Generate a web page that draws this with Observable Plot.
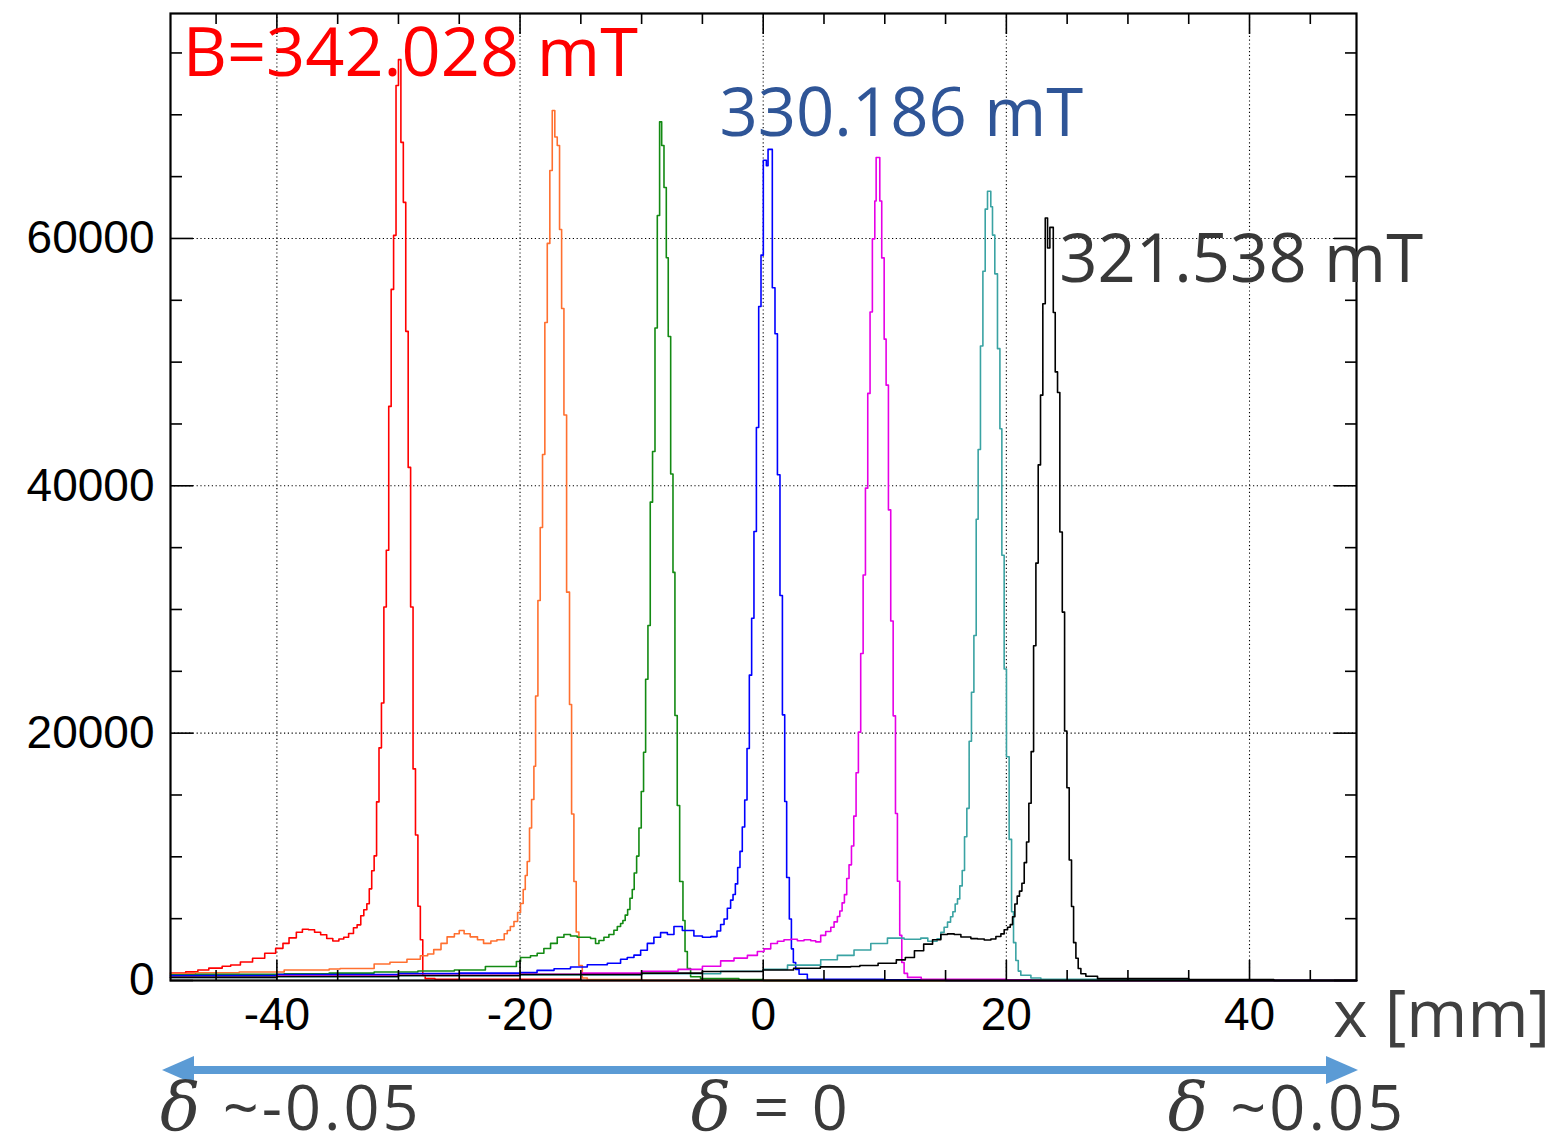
<!DOCTYPE html>
<html><head><meta charset="utf-8">
<script src="https://cdn.jsdelivr.net/npm/d3@7"></script>
<script src="https://cdn.jsdelivr.net/npm/@observablehq/plot@0.6"></script>
<style>
body{margin:0;background:#fff}
#chart svg{display:block}
</style>
</head><body><div id="chart"></div>
<script>
// axis domains and ticks
const xDomain = [-48.75, 48.8];
const yDomain = [0, 78190];
const xMajor = [-40, -20, 0, 20, 40];
const xMinor = [-45, -35, -30, -25, -15, -10, -5, 5, 10, 15, 25, 30, 35, 45];
const yMajor = [0, 20000, 40000, 60000];
const yMinor = [5000, 10000, 15000, 25000, 30000, 35000, 45000, 50000, 55000, 65000, 70000, 75000];

// histogram bin left edges (mm) and contents
const redX = [-48.75, -47.5, -46.5, -45.6, -44.5, -43.8, -43.0, -42.0, -41.0, -40.1, -39.5, -39.0, -38.4, -37.9, -37.4, -36.9, -36.4, -35.9, -35.4, -34.9, -34.5, -34.1, -33.7, -33.4, -33.1, -32.85, -32.6, -32.4, -32.2, -32.0, -31.8, -31.6, -31.4, -31.2, -31.0, -30.8, -30.6, -30.4, -30.2, -30.0, -29.8, -29.6, -29.4, -29.2, -29.0, -28.8, -28.6, -28.4, -28.2, -28.0, -27.8, -27.0, -15.0];
const redY = [600, 700, 850, 1000, 1150, 1250, 1500, 1800, 2200, 2600, 3000, 3450, 3900, 4150, 4100, 3900, 3700, 3400, 3200, 3350, 3500, 3800, 4260, 4500, 5230, 5720, 6200, 7410, 8870, 10080, 14440, 18810, 22440, 30200, 34790, 46420, 55880, 60250, 72370, 74460, 67770, 62920, 52490, 41490, 30200, 17110, 11770, 6000, 3290, 400, 150, 100, 0];

const orangeX = [-48.75, -46.7, -43.1, -39.4, -35.7, -34.8, -32.0, -30.7, -29.3, -28.2, -27.6, -27.1, -26.5, -26.0, -25.4, -25.0, -24.6, -24.1, -23.5, -23.0, -22.4, -21.9, -21.3, -21.05, -20.8, -20.5, -20.2, -19.96, -19.74, -19.57, -19.41, -19.22, -19.05, -18.86, -18.72, -18.53, -18.34, -18.15, -17.96, -17.76, -17.55, -17.35, -17.14, -16.94, -16.75, -16.58, -16.39, -16.17, -15.93, -15.76, -15.57, -15.38, -15.16, -14.88, -14.47, -10];
const orangeY = [570, 630, 690, 850, 930, 970, 1330, 1480, 1720, 2000, 2140, 2500, 3000, 3530, 3780, 4040, 3780, 3530, 3290, 3000, 3200, 3290, 3780, 4040, 4370, 4770, 5500, 6230, 7360, 8490, 9620, 12330, 14640, 17330, 23000, 30730, 36630, 42530, 53200, 59600, 65500, 70350, 68200, 67520, 60730, 54340, 45720, 31400, 22320, 13460, 8000, 3920, 1210, 200, 80, 0];

const greenX = [-48.75, -46.7, -39.4, -35.7, -32.0, -28.4, -25.4, -22.85, -20.3, -19.96, -19.14, -18.59, -18.04, -17.49, -16.94, -16.39, -15.85, -15.3, -14.75, -14.2, -13.79, -13.51, -13.1, -12.69, -12.28, -12.0, -11.73, -11.54, -11.35, -11.15, -10.96, -10.77, -10.61, -10.41, -10.22, -10.03, -9.84, -9.67, -9.48, -9.29, -9.1, -8.9, -8.71, -8.52, -8.35, -8.16, -7.97, -7.81, -7.61, -7.42, -7.26, -7.07, -6.87, -6.6, -6.43, -6.24, -5.97, -5.15, -2.0, 0];
const greenY = [460, 500, 550, 600, 690, 770, 850, 1130, 1540, 1860, 2000, 2200, 2590, 3000, 3500, 3720, 3600, 3500, 3500, 3400, 2990, 3230, 3500, 3720, 4060, 4370, 4610, 4850, 5290, 5740, 6650, 7360, 8690, 10060, 12330, 15280, 18460, 24360, 28700, 38680, 42770, 52760, 61860, 69430, 67520, 64120, 58440, 52070, 40950, 33000, 21430, 14150, 8000, 4850, 2340, 970, 300, 150, 80, 0];

const blueX = [-48.75, -40, -30, -25, -19.96, -18.6, -17.2, -15.85, -14.47, -12.82, -11.73, -11.18, -10.63, -10.08, -9.53, -8.99, -8.44, -7.88, -7.34, -6.65, -5.7, -5.0, -4.3, -3.8, -3.5, -3.22, -2.95, -2.68, -2.48, -2.29, -2.1, -1.91, -1.72, -1.52, -1.33, -1.14, -0.95, -0.76, -0.56, -0.37, -0.18, 0.01, 0.26, 0.40, 0.75, 0.97, 1.17, 1.38, 1.58, 1.77, 1.93, 2.15, 2.32, 2.48, 2.67, 2.95, 3.63, 10, 15];
const blueY = [400, 480, 570, 600, 640, 820, 950, 1090, 1270, 1390, 1720, 1860, 2050, 2450, 3000, 3500, 3870, 3720, 4370, 4040, 3600, 3500, 3550, 4000, 4530, 4970, 5840, 6500, 6950, 7810, 9140, 10440, 12410, 14600, 18760, 24690, 29290, 36310, 44720, 54500, 58650, 66320, 65880, 67200, 56020, 52290, 40900, 31130, 21480, 14470, 8330, 4970, 2560, 1460, 890, 500, 100, 50, 0];

const magentaX = [-48.75, -40, -30, -20, -15, -10, -7, -5, -3.5, -2.4, -1.3, -0.48, 0.07, 0.62, 1.17, 1.71, 2.26, 2.81, 3.36, 3.91, 4.32, 4.73, 5.14, 5.56, 5.83, 6.1, 6.3, 6.49, 6.68, 6.87, 7.06, 7.26, 7.45, 7.64, 7.83, 8.02, 8.22, 8.41, 8.6, 8.79, 8.98, 9.18, 9.29, 9.59, 9.75, 9.95, 10.11, 10.3, 10.49, 10.69, 10.88, 11.04, 11.23, 11.4, 11.59, 11.87, 13, 20, 22];
const magentaY = [300, 350, 420, 500, 600, 750, 900, 1150, 1590, 1810, 2030, 2340, 2560, 2990, 3170, 3300, 3340, 3210, 3300, 3210, 3120, 3650, 3960, 4310, 4740, 5180, 5620, 6280, 6940, 8250, 9350, 10880, 13290, 16800, 20080, 26440, 32790, 39810, 47470, 54050, 59970, 63030, 66550, 63030, 58430, 51860, 48140, 38050, 29070, 21400, 13500, 8030, 3650, 1460, 580, 250, 100, 50, 0];

const tealX = [-48.75, -40, -30, -20, -10, -3.5, 0, 2.0, 4.73, 6.1, 7.47, 8.85, 10.22, 11.59, 12.96, 13.54, 14.3, 14.61, 14.88, 15.16, 15.41, 15.6, 15.79, 15.98, 16.17, 16.37, 16.56, 16.75, 16.94, 17.13, 17.33, 17.52, 17.68, 17.87, 18.07, 18.26, 18.45, 18.72, 18.86, 19.05, 19.27, 19.47, 19.63, 19.82, 20.01, 20.23, 20.43, 20.59, 20.78, 20.98, 21.19, 22.02, 22.84, 30, 35];
const tealY = [250, 300, 380, 450, 550, 750, 900, 1240, 1680, 2030, 2470, 2990, 3430, 3340, 3430, 3170, 3380, 3890, 4310, 4720, 5150, 5560, 6190, 6600, 7650, 8900, 11620, 13920, 19340, 23310, 27900, 37300, 42940, 51300, 57350, 62370, 63820, 62560, 60270, 57140, 51090, 44610, 34380, 25190, 18090, 11410, 5560, 3060, 1620, 760, 430, 200, 100, 50, 0];

const blackX = [-48.75, -40, -30, -20, -10, -5, 0, 2.5, 4.7, 7.2, 7.95, 9.45, 10.95, 11.69, 12.44, 13.2, 13.93, 14.61, 15.16, 15.71, 16.26, 17.08, 17.63, 18.18, 18.73, 19.14, 19.55, 19.82, 20.1, 20.32, 20.51, 20.7, 20.89, 21.08, 21.28, 21.47, 21.66, 21.85, 22.04, 22.24, 22.43, 22.62, 22.81, 23.0, 23.2, 23.39, 23.58, 23.86, 24.02, 24.21, 24.4, 24.6, 24.79, 24.98, 25.17, 25.36, 25.53, 25.72, 25.91, 26.13, 26.54, 27.5, 35, 42];
const blackY = [250, 320, 400, 480, 600, 730, 850, 990, 1100, 1130, 1210, 1390, 1670, 1860, 2400, 2940, 3300, 3720, 3770, 3720, 3520, 3390, 3350, 3270, 3350, 3560, 3770, 4100, 4310, 4520, 5150, 6190, 6820, 7230, 7860, 9530, 11200, 14330, 18510, 27070, 33750, 41690, 47330, 54720, 61650, 59230, 60900, 54010, 49210, 47540, 36260, 29790, 20180, 15580, 9740, 5980, 3060, 1800, 970, 550, 340, 150, 80, 0];

// series (draw order) and colors
const seriesNames = ["342.028", "337.6", "334.0", "330.186", "326.8", "323.9", "321.538"];
const seriesColors = ["#ff0000", "#ff7030", "#138a13", "#0000ff", "#e600e6", "#3aa3a3", "#000000"];
const seriesX = [redX, orangeX, greenX, blueX, magentaX, tealX, blackX];
const seriesY = [redY, orangeY, greenY, blueY, magentaY, tealY, blackY];

// annotations
const labelText = ["B=342.028 mT", "330.186 mT", "321.538 mT"];
const labelX = [-47.75, -3.6, 24.35];
const labelY = [73150, 68250, 56450];
const labelColor = ["#ff0000", "#2f5597", "#383838"];
const deltaText = ["~-0.05", "= 0", "~0.05"];
const axisTitle = "x [mm]";

// build step rows
const histos = seriesNames.map((name, k) => {
  const xs = seriesX[k], ys = seriesY[k];
  const rows = xs.map((x, i) => ({x, y: ys[i]}));
  rows.push({x: xDomain[1], y: ys[ys.length - 1]});
  return {name, color: seriesColors[k], rows};
});

const grid = {stroke: "#000", strokeOpacity: 1, strokeWidth: 1.1, strokeDasharray: "1.2,2.6"};
const blank = () => "";
const tickStyle = {label: null, tickFormat: blank, stroke: "#000", strokeWidth: 1.6};

const chart = Plot.plot({
  width: 1555,
  height: 1148,
  marginLeft: 170,
  marginRight: 199,
  marginTop: 13,
  marginBottom: 168,
  style: {fontFamily: "'Liberation Sans', Arial, sans-serif", background: "#fff", overflow: "visible"},
  x: {domain: xDomain},
  y: {domain: yDomain},
  marks: [
    Plot.gridX(xMajor, grid),
    Plot.gridY(yMajor.filter(v => v > 0), grid),
    ...histos.map(h => Plot.line(h.rows, {x: "x", y: "y", curve: "step-after", stroke: h.color, strokeWidth: 1.6})),
    Plot.axisX(xMajor, {anchor: "bottom", tickSize: 0, tickPadding: 17, fontSize: 46, fill: "#000", label: null, tickFormat: d => String(d)}),
    Plot.axisX(xMajor, {anchor: "bottom", tickSize: -20, ...tickStyle}),
    Plot.axisX(xMinor, {anchor: "bottom", tickSize: -10, ...tickStyle}),
    Plot.axisX(xMajor, {anchor: "top", tickSize: -20, ...tickStyle}),
    Plot.axisX(xMinor, {anchor: "top", tickSize: -10, ...tickStyle}),
    Plot.axisY(yMajor, {anchor: "left", tickSize: 0, tickPadding: 16, fontSize: 46, fill: "#000", label: null, tickFormat: d => String(d)}),
    Plot.axisY(yMajor, {anchor: "left", tickSize: -23, ...tickStyle}),
    Plot.axisY(yMinor, {anchor: "left", tickSize: -12, ...tickStyle}),
    Plot.axisY(yMajor, {anchor: "right", tickSize: -23, ...tickStyle}),
    Plot.axisY(yMinor, {anchor: "right", tickSize: -12, ...tickStyle}),
    Plot.frame({stroke: "#000", strokeWidth: 2.2}),
    ...labelText.map((t, i) => Plot.text([t], {
      x: () => labelX[i], y: () => labelY[i], text: d => d,
      fill: labelColor[i], fontSize: i === 0 ? 68.5 : 67, fontFamily: "'Open Sans', 'Noto Sans', sans-serif",
      textAnchor: "start", lineAnchor: "bottom"
    }))
  ]
});

document.getElementById("chart").appendChild(chart);

// annotations below the frame: x label, delta arrow and delta labels
const svg = d3.select(chart);
const sx = chart.scale("x");
const left = sx.apply(xDomain[0]);
const right = sx.apply(xDomain[1]);
const mid = sx.apply(0);
const frameBottom = 980;

svg.append("text")
  .attr("x", right - 23).attr("y", frameBottom + 57)
  .attr("text-anchor", "start")
  .attr("font-family", "'Open Sans', 'Noto Sans', sans-serif")
  .attr("font-size", 66).attr("fill", "#404040")
  .text(axisTitle);

const ay = frameBottom + 90;
const arrowColor = "#5b9bd5";
svg.append("line")
  .attr("x1", left + 20).attr("x2", right - 20)
  .attr("y1", ay).attr("y2", ay)
  .attr("stroke", arrowColor).attr("stroke-width", 8);
svg.append("polygon")
  .attr("points", `${left - 8},${ay} ${left + 24},${ay - 14} ${left + 24},${ay + 14}`)
  .attr("fill", arrowColor);
svg.append("polygon")
  .attr("points", `${right + 2},${ay} ${right - 30},${ay - 14} ${right - 30},${ay + 14}`)
  .attr("fill", arrowColor);

const dPos = [[left - 10, "start"], [mid + 8, "middle"], [right + 50, "end"]];
deltaText.forEach((t, i) => {
  const txt = svg.append("text")
    .attr("x", dPos[i][0]).attr("y", frameBottom + 150)
    .attr("text-anchor", dPos[i][1])
    .attr("font-family", "'Open Sans', 'Noto Sans', sans-serif")
    .attr("font-size", 63).attr("letter-spacing", 3).attr("fill", "#3a3a3a");
  txt.append("tspan").attr("font-family", "'DejaVu Serif', serif").attr("font-style", "italic").attr("font-size", 67).text("δ");
  txt.append("tspan").text(" " + t);
});
</script>
</body></html>
